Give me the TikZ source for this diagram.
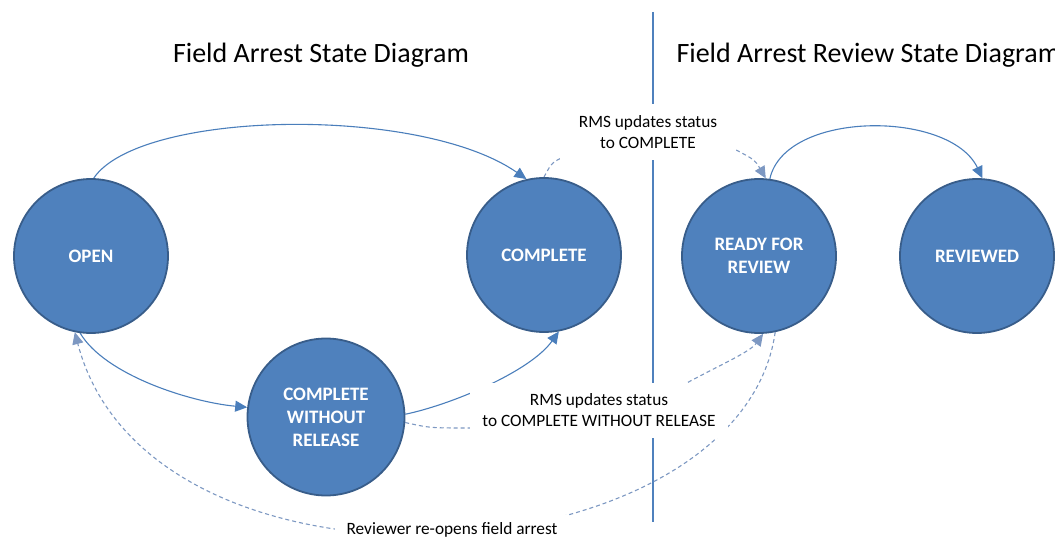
\documentclass[tikz,border=0pt]{standalone}
\usepackage{fontspec}
\setmainfont{Carlito}
\usetikzlibrary{arrows.meta,backgrounds}
\definecolor{stateblue}{RGB}{79,129,189}
\definecolor{stateedge}{RGB}{56,93,138}
\definecolor{moveblue}{RGB}{74,126,187}
\definecolor{triggerblue}{RGB}{125,152,194}

\begin{document}
\begin{tikzpicture}[x=1pt,y=-1pt,
  state/.style={circle,fill=stateblue,draw=stateedge,line width=1.8pt,minimum size=154pt,inner sep=0pt,
    text=white,align=center,font=\bfseries\fontsize{19}{23}\selectfont},
  note/.style={fill=white,inner sep=0pt,align=center,font=\fontsize{17.3}{20.5}\selectfont},
  move/.style={draw=moveblue,line width=1.1pt,-{Triangle[length=12pt,width=11pt]}},
  trigger/.style={draw=triggerblue,line width=1.1pt,dash pattern=on 4pt off 3pt}]
\useasboundingbox (0,0) rectangle (1055,537);
% titles
\node[font=\fontsize{28}{32}\selectfont] (lefttitle) at (321,55) {Field Arrest State Diagram};
\node[font=\fontsize{28}{32}\selectfont,anchor=west] (righttitle) at (673,55) {Field Arrest Review State Diagram};
% states
\node[state] (open) at (91,256) {OPEN};
\node[state] (complete) at (544,255) {COMPLETE};
\node[state,minimum size=157pt] (cwr) at (326,417) {COMPLETE\\WITHOUT\\RELEASE};
\node[state] (ready) at (759,256) {READY FOR\\REVIEW};
\node[state] (reviewed) at (977,256) {REVIEWED};
% labels (white boxes cut the lines)
\node[note,minimum width=176pt,minimum height=56pt] (rmstop) at (648,132) {RMS updates status\\to COMPLETE};
\node[note,minimum width=258pt,minimum height=55pt] (rmslow) at (599,410) {RMS updates status\\to COMPLETE WITHOUT RELEASE};
\node[note,minimum width=234pt,minimum height=30pt] (reopen) at (452,530) {Reviewer re-opens field arrest};
\begin{scope}[on background layer]
\draw[stateblue,line width=1.3pt] (653,12) -- (653,522); % divider
\draw[move] (open.88) .. controls (140,110) and (420,105) .. (complete.103);
\draw[move] (open.262) .. controls (105,375) and (190,402) .. (cwr.173);
\draw[move] (cwr.2) .. controls (450,405) and (530,372) .. (complete.281);
\draw[move] (ready.82) .. controls (785,110) and (950,110) .. (reviewed.86);
\draw[trigger] (complete.90) .. controls (552,162) .. ([xshift=8pt,yshift=5pt]rmstop.south west);
\draw[trigger,-{Triangle[length=12pt,width=11pt]}] ([yshift=-18pt]rmstop.east) .. controls (755,160) .. (ready.85);
\draw[trigger] (cwr.356) .. controls (430,428) .. ([yshift=-18pt]rmslow.west);
\draw[trigger,-{Triangle[length=12pt,width=11pt]}] ([xshift=89pt]rmslow.north) .. controls (720,365) and (750,352) .. (ready.273);
\draw[trigger,-{Triangle[length=12pt,width=11pt]}] (ready.282) .. controls (740,580) and (150,620) .. (open.258);
\end{scope}
\end{tikzpicture}
\end{document}
